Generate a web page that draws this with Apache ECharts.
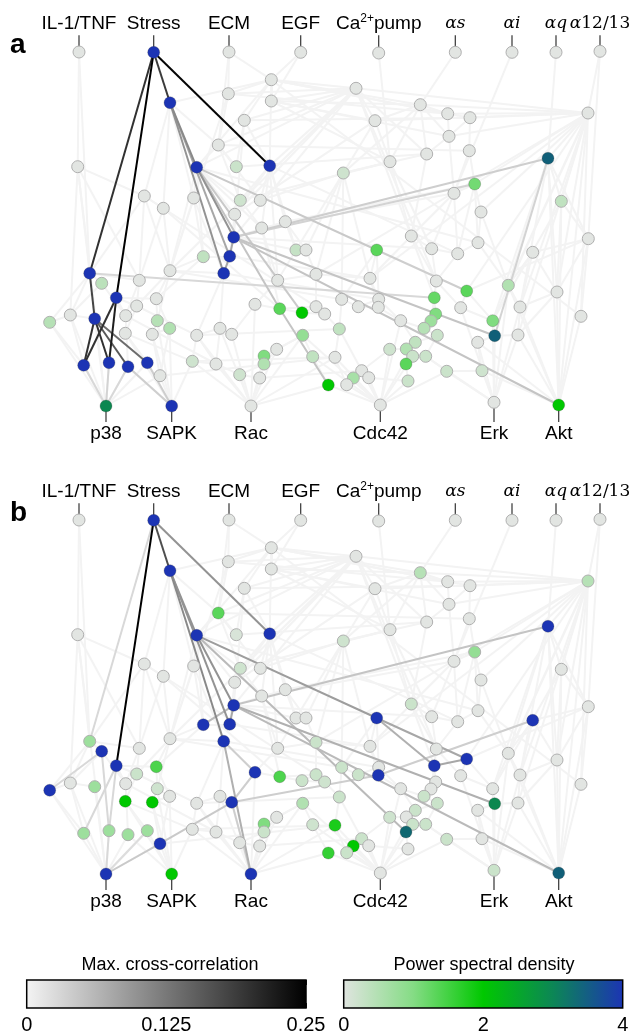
<!DOCTYPE html>
<html><head><meta charset="utf-8">
<script src="https://cdn.jsdelivr.net/npm/echarts@6/dist/echarts.min.js"></script>
<style>html,body{margin:0;padding:0;background:#fff}#c{width:632px;height:1035px}</style>
</head><body><div id="c"></div>
<script>
// ---- node layout (layout units) ----
const nodeX = [79,153.7,229,300.7,378.7,455.3,512,556,600,
 271.3,228.3,271.3,170,244.3,218.3,77.7,196.7,236.3,269.7,144.3,163.3,193.7,240.3,260.3,234.7,285.3,261.7,
 356,420.3,375,447.7,470,588,449,469.3,426.7,390,548,343.3,474.7,454,561.3,481,
 233.7,229.7,223.7,203.3,296,306,316,89.7,101.7,139.3,170,277.7,116.3,156.3,136.7,70.3,49.7,94.7,125.7,157.3,169.7,
 125.3,152.3,196.7,220,231.7,255,279.7,302,316,324.7,302.7,276.7,264,264,312.7,83.7,109,128,147.3,160,192.3,216,239.7,259.7,328.3,
 411.3,376.7,431.7,457.7,478,532.7,588.3,370,436.3,466.7,508.3,557,341.7,358.3,378.7,378.3,434.3,460.7,520,581,
 435.7,431,424,400.7,492.7,494.7,518,437.3,339.3,477.7,415.3,406.3,389.7,412.7,425.7,406,335,446.7,482,361.7,353.3,368.7,346.7,408,
 106,171.7,251,380.3,494,558.7];
const nodeY = [52,52.3,52,52.3,53,52.3,52.3,52.3,51.3,
 79.7,93.7,101,102.7,120.3,145,166.7,167.3,166.7,165.7,196,208.3,198,200.3,200.3,214.3,221.7,228,
 88.3,104.7,120.7,113.7,117.7,113,136.3,150.7,154,161.7,158.3,173,184,193.3,201.3,212,
 237.3,256.3,273.3,256.7,250,250,274.3,273.3,283.3,280.3,270.7,280.3,297.7,298.7,306,315,322.3,318.7,315.7,320.7,328.3,
 333.3,334.3,335.3,328.3,334.3,304.3,308.7,312.7,306.7,314,335.3,349.3,356,364,356.7,365.3,362.7,366.7,362.7,375.7,361.3,364,374.7,378,385,
 236,250,248.7,253.7,242.7,252.3,238.7,278.3,281,291,285.3,292,299.3,306.7,299.3,307.3,297.7,307.7,307,316.3,
 314,321,328.3,320.7,320.7,335.7,335,335.3,329,342.3,342.3,349,349.3,356.3,356.3,364,357.3,371.3,370.7,370.7,378,377.7,384.7,381,
 406,406,406,405,402.3,405];
// power spectral density per node, panel a and panel b
const psdA = [0,4,0,0,0,0,0,0,0,
 0,0,0,4,0,0,0,4,0.25,4,0,0,0,0.2,0,0,0,0,
 0,0,0,0,0,0,0,0,0,0,3.5,0.2,1.1,0,0.35,0,
 4,4,4,0.35,0.3,0,0,4,0.4,0,0,0,4,0,0,0,0.45,4,0,0.45,0.5,
 0,0,0,0,0,0,1.3,2,0,0,0.8,0,1,0.5,0.35,4,4,4,4,0,0.2,0,0.2,0,2,
 0,1.3,0,0,0,0,0,0,0,1.3,0.5,0,0,0,0,0,1.2,0,0,0,
 1,0.7,0.45,0,1,3.5,0,0.25,0.35,0,0.35,0.5,0.2,0.25,0.25,1.3,0,0.25,0.2,0,0.6,0,0,0.25,
 3,4,0,0,0,2];
const psdB = [0,4,0,0,0,0,0,0,0,
 0,0,0,4,0,1.3,0,4,0.1,4,0,0,0,0.2,0,0,0,0,
 0,0.45,0,0,0,0.45,0,0,0,0,4,0.2,0.8,0,0,0,
 4,4,4,4,0,0,0.25,0.7,4,0,0,0,4,1.4,0.25,0,4,0.7,0,0.2,0,
 2,2,0,0,4,4,1.4,0.25,0.25,0.2,0.5,0,1,0.25,0.2,0.7,0.7,0.7,0.7,4,0,0,0,0,1.6,
 0.25,4,0,0,0,4,0,0,0,4,0,0,0.25,0.25,0,4,4,0,0,0,
 0,0,0.25,0,0,3,0,0.25,0.25,0,0.25,0,0.2,0.25,0.25,3.4,1.8,0.25,0,0.25,2,0,0.25,0,
 4,2,4,0,0.25,3.5];
// background (weak) interactions
const faintEdges = [[0,15],[15,58],[15,50],[15,52],[15,19],[2,10],[2,9],[2,14],[3,9],[3,11],[4,36],[5,28],[6,40],[7,37],[8,32],
 [27,9],[27,10],[27,11],[27,13],[27,16],[27,18],[27,14],[27,24],[27,32],[27,29],[27,35],[27,43],[27,53],
 [32,28],[32,29],[32,30],[32,31],[32,37],[32,41],[32,39],[32,99],[32,100],[32,108],[32,107],[32,113],[32,138],[32,98],[32,42],[32,115],[32,33],
 [9,12],[9,16],[9,10],[9,11],[9,13],[9,28],[9,30],[9,31],[9,18],[11,28],[11,36],[11,29],[13,18],[13,17],[13,43],[10,14],[10,53],
 [14,16],[14,22],[14,23],[14,17],[18,22],[18,23],[18,25],[18,24],[18,26],[18,47],[18,54],[19,20],[19,52],[19,53],[19,50],[20,53],[20,52],
 [21,53],[21,45],[21,46],[22,26],[24,44],[25,47],[25,48],[26,54],[26,70],[28,29],[28,30],[28,33],[28,35],[28,36],[28,38],[29,38],[29,36],
 [30,33],[31,34],[31,33],[33,35],[33,40],[34,40],[34,39],[35,38],[35,89],[36,38],[36,89],[36,91],[37,41],[37,99],[37,100],[37,95],[37,107],[37,113],
 [38,47],[38,48],[38,49],[38,96],[38,101],[39,40],[39,42],[39,92],[39,93],[40,89],[40,91],[40,92],[41,95],[41,100],[42,93],[42,99],
 [43,47],[43,25],[44,46],[45,53],[45,66],[45,67],[46,53],[46,56],[47,48],[47,54],[48,49],[49,54],[49,72],[49,96],
 [50,51],[50,52],[50,58],[50,59],[51,58],[51,61],[52,57],[52,61],[53,56],[53,57],[53,62],[55,56],[55,57],[55,61],[56,62],[56,63],[57,61],[57,64],
 [58,59],[58,79],[58,60],[59,79],[59,133],[61,64],[61,81],[62,63],[62,65],[63,65],[63,83],[64,82],[65,83],[66,67],[66,84],[66,85],[67,68],[67,85],
 [68,69],[69,70],[69,54],[70,71],[70,72],[71,72],[71,73],[72,73],[73,117],[74,75],[74,76],[74,78],[75,76],[75,77],[76,77],[77,86],[77,87],[78,88],
 [84,85],[85,86],[86,87],[133,79],[133,80],[133,81],[133,82],[133,58],[133,60],[133,83],[134,81],[134,82],[134,83],[134,62],[134,63],[134,64],[134,65],[134,84],
 [135,66],[135,67],[135,68],[135,75],[135,76],[135,77],[135,84],[135,85],[135,86],[135,87],[135,69],[135,74],[135,88],[135,125],
 [136,117],[136,121],[136,125],[136,126],[136,128],[136,129],[136,130],[136,131],[136,132],[136,88],[136,78],[136,74],[136,112],[136,119],[136,122],
 [137,113],[137,114],[137,115],[137,118],[137,127],[137,126],[137,107],[137,99],[137,106],[137,123],
 [138,95],[138,100],[138,108],[138,115],[138,107],[138,37],[138,41],[138,99],[138,118],[138,127],
 [89,91],[89,96],[89,97],[90,96],[90,101],[90,103],[91,92],[91,97],[92,93],[92,97],[93,99],[94,95],[94,99],[94,100],[94,107],[95,100],[95,108],
 [96,103],[96,104],[97,105],[97,106],[98,106],[98,113],[99,107],[100,107],[100,115],[101,102],[101,117],[102,103],[102,104],[103,112],[104,112],
 [105,109],[105,110],[106,113],[107,115],[109,110],[110,111],[111,112],[111,116],[112,119],[113,114],[114,115],[114,118],[116,119],[116,123],
 [117,125],[118,127],[119,120],[120,121],[120,122],[121,128],[122,123],[122,124],[123,126],[124,132],[125,131],[126,127],[128,129],[128,130],
 [129,131],[130,132],[19,72],[20,70],[53,101],[57,66],[61,85],[64,84],[83,125],[84,125],[87,128],[66,117],[45,103],[44,96],[43,91],[18,92],
 [16,93],[25,39],[26,40],[13,31],[10,30],[11,33],[14,34],[17,35],[22,36],[23,38],[24,29],[12,14],[12,21],[12,19],[12,20],[16,21],[16,24],
 [16,22],[16,26],[16,53],[16,46],[8,95],[27,97],[27,105],[9,108],[32,96],[32,49],[95,98],[41,113],[0,50],[15,133]];
const faintWeight = 0.002;
// strong interactions: [source, target, max cross-correlation]
const edgesA = [[1,50,0.2],[1,12,0.19],[1,18,0.245],[1,55,0.25],[12,16,0.11],[12,45,0.1],[12,44,0.08],[16,43,0.1],
 [16,70,0.05],[70,88,0.05],[16,71,0.045],[16,90,0.045],[90,98,0.04],[43,37,0.04],[43,114,0.05],[43,138,0.05],[43,39,0.035],
 [43,44,0.08],[44,45,0.08],[50,60,0.18],[55,79,0.2],[55,80,0.22],[60,79,0.2],[60,80,0.2],[60,81,0.16],[60,82,0.14],
 [79,133,0.03],[80,133,0.035],[81,133,0.03],[81,134,0.04],[82,134,0.04],[50,105,0.03],[37,114,0.035]];
const edgesB = [[1,50,0.03],[1,12,0.17],[1,18,0.1],[1,55,0.25],[12,16,0.1],[12,45,0.11],[12,44,0.1],[16,43,0.1],
 [16,90,0.09],[90,98,0.08],[90,105,0.07],[105,98,0.08],[43,37,0.05],[43,114,0.07],[43,138,0.06],[46,43,0.06],[44,43,0.08],
 [45,69,0.04],[69,68,0.04],[68,83,0.045],[68,104,0.04],[83,133,0.045],[45,135,0.07],[68,135,0.04],[94,104,0.04],
 [16,124,0.06],[55,79,0.03],[51,59,0.03],[51,80,0.03],[55,80,0.03],[133,80,0.03],[133,82,0.025]];
// node annotations
const topNodes = [0,1,2,3,4,5,6,7,8];
const topLabels = ['{n|IL-1/TNF}','{n|Stress}','{n|ECM}','{n|EGF}','{n|Ca}{s|2+}{n|pump}','{m|αs}','{m|αi}','{m|αq}','{m|α}{u|12/13}'];
const bottomNodes = [133,134,135,136,137,138];
const bottomLabels = ['p38','SAPK','Rac','Cdc42','Erk','Akt'];

// ---- colormaps ----
function lerp(stops, v){
  if (v <= stops[0][0]) return stops[0][1];
  for (let i=1;i<stops.length;i++){
    if (v <= stops[i][0]){
      const a=stops[i-1], b=stops[i], t=(v-a[0])/(b[0]-a[0]);
      return a[1].map((c,k)=>Math.round(c+(b[1][k]-c)*t));
    }
  }
  return stops[stops.length-1][1];
}
const rgb = c => 'rgb('+c.join(',')+')';
const psdStops = [[0,[226,229,226]],[1,[128,220,128]],[2,[0,200,0]],[3,[12,135,80]],[3.5,[16,95,120]],[4,[28,52,180]]];
const ccStops = [[0,[245,245,245]],[0.25,[0,0,0]]];
const psdColor = v => rgb(lerp(psdStops, v));
const ccColor = v => rgb(lerp(ccStops, v));

function graphSeries(idx, psd, strong){
  const links = faintEdges.map(e=>({source:e[0],target:e[1],lineStyle:{color:ccColor(faintWeight),width:2}}));
  strong.slice().sort((a,b)=>a[2]-b[2]).forEach(e=>links.push({source:e[0],target:e[1],lineStyle:{color:ccColor(e[2]),width:2}}));
  return {
    type:'graph', coordinateSystem:'cartesian2d', xAxisIndex:idx, yAxisIndex:idx,
    symbolSize:12, silent:true, z:3,
    data: nodeX.map((x,i)=>({value:[x,nodeY[i]], itemStyle:{color:psdColor(psd[i]), borderColor: psd[i]>0.9?'rgba(60,60,60,0.25)':'#b0b0b0', borderWidth:1}})),
    links, lineStyle:{opacity:1,curveness:0}, label:{show:false}, emphasis:{disabled:true}
  };
}
const richTop = {
  n:{fontFamily:'Liberation Sans, Arial, sans-serif',fontSize:19,color:'#000'},
  s:{fontFamily:'Liberation Sans, Arial, sans-serif',fontSize:12,color:'#000',verticalAlign:'top',padding:[0,0,10,0]},
  m:{fontFamily:'DejaVu Serif, serif',fontStyle:'italic',fontSize:17,color:'#000'},
  u:{fontFamily:'DejaVu Serif, serif',fontSize:17,color:'#000'}
};
// label rows: top labels sit above the highest top node, bottom labels below the lowest output node
const topRowY = Math.min.apply(null, topNodes.map(n=>nodeY[n]));
const bottomRowY = Math.max.apply(null, bottomNodes.map(n=>nodeY[n]));
function labelSeries(idx){
  const data = topNodes.map((n,i)=>[nodeX[n],nodeY[n],i,-1,topRowY]).concat(bottomNodes.map((n,i)=>[nodeX[n],nodeY[n],i,1,bottomRowY]));
  return {
    type:'custom', coordinateSystem:'cartesian2d', xAxisIndex:idx, yAxisIndex:idx, silent:true, z:2,
    data,
    renderItem:(params, api)=>{
      const p = api.coord([api.value(0), api.value(1)]);
      const r = api.coord([api.value(0), api.value(4)]);
      const dir = api.value(3), li = api.value(2);
      const txt = dir<0 ? topLabels[li] : '{n|'+bottomLabels[li]+'}';
      return {type:'group', children:[
        {type:'line', shape:{x1:p[0],y1:p[1]+dir*5,x2:p[0],y2:r[1]+dir*16}, style:{stroke:'#333',lineWidth:1.2}},
        {type:'text', x:p[0], y:r[1]+dir*28, style:{text:txt, rich:richTop, align:'center', verticalAlign:'middle'}}
      ]};
    }
  };
}
function barSeries(idx, stops){
  return {
    type:'custom', coordinateSystem:'cartesian2d', xAxisIndex:idx, yAxisIndex:idx, silent:true,
    data:[[0]],
    renderItem:(params, api)=>{
      const cs = params.coordSys;
      return {type:'rect', shape:{x:cs.x,y:cs.y,width:cs.width,height:cs.height},
        style:{fill:new echarts.graphic.LinearGradient(0,0,1,0,stops), stroke:'#000', lineWidth:1.5}};
    }
  };
}
const ccGrad = [{offset:0,color:'#f4f4f4'},{offset:0.5,color:'#787878'},{offset:1,color:'#000000'}];
const psdGrad = [{offset:0,color:'#e0e4e0'},{offset:0.25,color:'#85dc85'},{offset:0.5,color:'#00c800'},{offset:0.75,color:'#0c8656'},{offset:1,color:'#1c34b4'}];

const lblFont = {fontFamily:'Liberation Sans, Arial, sans-serif',fontSize:20,color:'#000',margin:7};
function cbX(gi, max, interval, pos, labels){
  return {type:'value', gridIndex:gi, min:0, max, interval, position:pos,
    axisLine:{show:false}, splitLine:{show:false},
    axisTick:{show:true, inside:true, length:5, lineStyle:{color:'#222',width:1}},
    axisLabel: labels ? Object.assign({show:true, showMinLabel:true, showMaxLabel:true}, lblFont) : {show:false}};
}
const option = {
  backgroundColor:'#fff', animation:false,
  grid:[
    {left:0, top:0, width:632, height:469},
    {left:0, top:468, width:632, height:469},
    {left:26.7, top:980, width:279.3, height:29},
    {left:343.7, top:980, width:279, height:29}
  ],
  xAxis:[
    {type:'value',gridIndex:0,min:0,max:632,show:false},
    {type:'value',gridIndex:1,min:0,max:632,show:false},
    cbX(2,0.25,0.125,'bottom',true),
    cbX(3,4,2,'bottom',true),
    cbX(2,0.25,0.125,'top',false),
    cbX(3,4,2,'top',false)
  ],
  yAxis:[
    {type:'value',gridIndex:0,min:0,max:469,inverse:true,show:false},
    {type:'value',gridIndex:1,min:0,max:469,inverse:true,show:false},
    {type:'value',gridIndex:2,min:0,max:1,show:false},
    {type:'value',gridIndex:3,min:0,max:1,show:false}
  ],
  graphic:[
    {type:'text',left:10,top:31,style:{text:'a',font:'bold 28px Liberation Sans, Arial, sans-serif',fill:'#000'}},
    {type:'text',left:10,top:499,style:{text:'b',font:'bold 28px Liberation Sans, Arial, sans-serif',fill:'#000'}},
    {type:'text',x:170,y:965,style:{text:'Max. cross-correlation',font:'18px Liberation Sans, Arial, sans-serif',fill:'#000',align:'center',verticalAlign:'middle'}},
    {type:'text',x:484,y:965,style:{text:'Power spectral density',font:'18px Liberation Sans, Arial, sans-serif',fill:'#000',align:'center',verticalAlign:'middle'}}
  ],
  series:[
    labelSeries(0), labelSeries(1),
    graphSeries(0, psdA, edgesA), graphSeries(1, psdB, edgesB),
    barSeries(2, ccGrad), barSeries(3, psdGrad)
  ]
};
const chart = echarts.init(document.getElementById('c'), null, {renderer:'canvas'});
chart.setOption(option);
</script></body></html>
